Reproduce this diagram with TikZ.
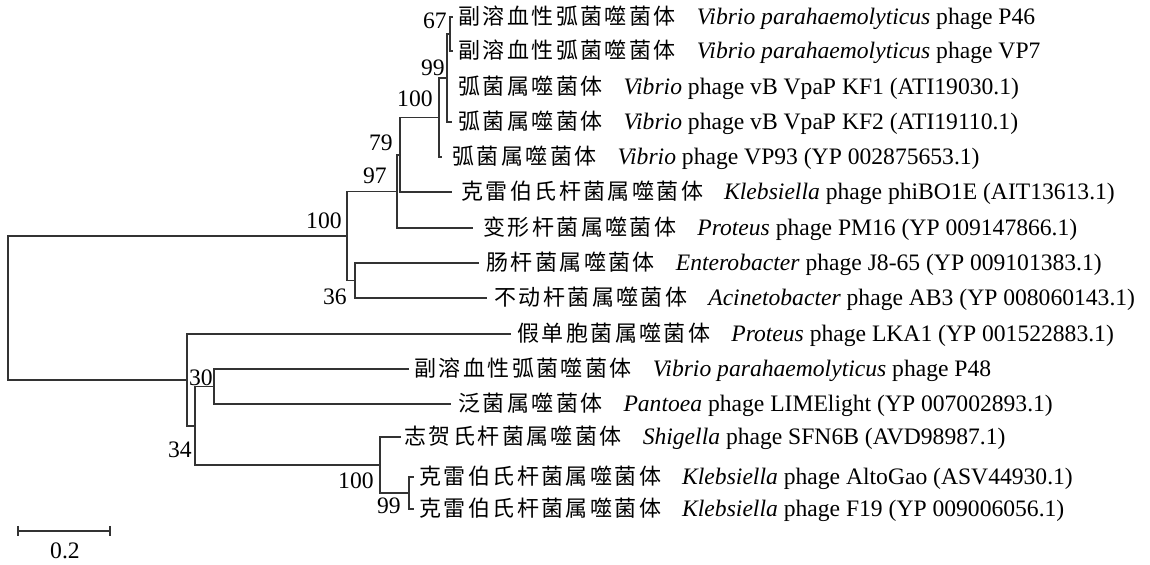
\documentclass[tikz,border=0pt]{standalone}
\usepackage{fontspec}
\setmainfont{Liberation Serif}
\newfontfamily\cjk[LetterSpace=11]{Noto Sans CJK SC}
\usetikzlibrary{positioning}
\newcommand{\phg}[3]{{\cjk\fontsize{11pt}{13pt}\selectfont #1}\hspace{10.5pt}\textit{#2} #3}

\begin{document}
\begin{tikzpicture}[x=0.5pt,y=-0.5pt,
	branch/.style={line width=0.8pt,draw=black!80},
	taxon/.style={anchor=base west,inner sep=0pt,yshift=-4pt,font=\fontsize{11.8pt}{14pt}\selectfont},
	boot/.style={anchor=base east,inner sep=0pt,font=\fontsize{11.8pt}{14pt}\selectfont}]
	\useasboundingbox (0,0) rectangle (1150,565);
	
	% leaf tips
	\coordinate (t1) at (453,17);
	\coordinate (t2) at (453,51);
	\coordinate (t4) at (452,122);
	\coordinate (t5) at (442,157);
	\coordinate (t6) at (452,192);
	\coordinate (t7) at (473,228);
	\coordinate (t8) at (479,263);
	\coordinate (t9) at (487,298);
	\coordinate (t10) at (511,334);
	\coordinate (t11) at (409,369);
	\coordinate (t12) at (451,404);
	\coordinate (t13) at (401,437);
	\coordinate (t14) at (414,477);
	\coordinate (t15) at (414,509);
	
	% inner nodes
	\coordinate (root) at (8,308);
	\coordinate (nA) at (347,235.9);
	\coordinate (n97) at (397,191.4);
	\coordinate (n79) at (400,154.75);
	\coordinate (n100) at (439,117.5);
	\coordinate (n99) at (447,78);
	\coordinate (n67) at (450,34);
	\coordinate (n36) at (355,280.5);
	\coordinate (nB) at (187,379.9);
	\coordinate (nC) at (195,425.75);
	\coordinate (nD) at (214,386.5);
	\coordinate (nE) at (380,465);
	\coordinate (nF) at (409,493);
	
	% upper clade
	\draw[branch] (root) |- (nA);
	\draw[branch] (nA) |- (n97);
	\draw[branch] (nA) |- (n36);
	\draw[branch] (n97) |- (n79);
	\draw[branch] (n97) |- (t7);
	\draw[branch] (n79) |- (n100);
	\draw[branch] (n79) |- (t6);
	\draw[branch] (n100) |- (n99);
	\draw[branch] (n100) |- (t5);
	\draw[branch] (n99) |- (n67);
	\draw[branch] (n99) |- (t4);
	\draw[branch] (n67) |- (t1);
	\draw[branch] (n67) |- (t2);
	\draw[branch] (n36) |- (t8);
	\draw[branch] (n36) |- (t9);
	
	% lower clade
	\draw[branch] (root) |- (nB);
	\draw[branch] (nB) |- (t10);
	\draw[branch] (nB) |- (nC);
	\draw[branch] (nC) |- (nD);
	\draw[branch] (nC) |- (nE);
	\draw[branch] (nD) |- (t11);
	\draw[branch] (nD) |- (t12);
	\draw[branch] (nE) |- (t13);
	\draw[branch] (nE) |- (nF);
	\draw[branch] (nF) |- (t14);
	\draw[branch] (nF) |- (t15);
	
	% bootstrap values
	\node[boot] (b67) at (447,29) {67};
	\node[boot] (b99) at (445,76) {99};
	\node[boot] (b100) at (433,107) {100};
	\node[boot] (b79) at (393,151) {79};
	\node[boot] (b97) at (387,184) {97};
	\node[boot] (bA) at (342,229) {100};
	\node[boot] (b36) at (347,305) {36};
	\node[boot] (bD) at (213,386) {30};
	\node[boot] (bC) at (192,458) {34};
	\node[boot] (bE) at (374,489) {100};
	\node[boot] (bF) at (401,514) {99};
	
	% taxa
	\node[taxon] (l1) at (458,17) {\phg{副溶血性弧菌噬菌体}{Vibrio parahaemolyticus}{phage P46}};
	\node[taxon] (l2) at (458,51) {\phg{副溶血性弧菌噬菌体}{Vibrio parahaemolyticus}{phage VP7}};
	\node[taxon] (l3) at (458,87) {\phg{弧菌属噬菌体}{Vibrio}{phage vB VpaP KF1 (ATI19030.1)}};
	\node[taxon] (l4) at (458,122) {\phg{弧菌属噬菌体}{Vibrio}{phage vB VpaP KF2 (ATI19110.1)}};
	\node[taxon] (l5) at (452,157) {\phg{弧菌属噬菌体}{Vibrio}{phage VP93 (YP 002875653.1)}};
	\node[taxon] (l6) at (461,192) {\phg{克雷伯氏杆菌属噬菌体}{Klebsiella}{phage phiBO1E (AIT13613.1)}};
	\node[taxon] (l7) at (483,228) {\phg{变形杆菌属噬菌体}{Proteus}{phage PM16 (YP 009147866.1)}};
	\node[taxon] (l8) at (486,263) {\phg{肠杆菌属噬菌体}{Enterobacter}{phage J8-65 (YP 009101383.1)}};
	\node[taxon] (l9) at (494,298) {\phg{不动杆菌属噬菌体}{Acinetobacter}{phage AB3 (YP 008060143.1)}};
	\node[taxon] (l10) at (517,334) {\phg{假单胞菌属噬菌体}{Proteus}{phage LKA1 (YP 001522883.1)}};
	\node[taxon] (l11) at (414,369) {\phg{副溶血性弧菌噬菌体}{Vibrio parahaemolyticus}{phage P48}};
	\node[taxon] (l12) at (458,404) {\phg{泛菌属噬菌体}{Pantoea}{phage LIMElight (YP 007002893.1)}};
	\node[taxon] (l13) at (404,437) {\phg{志贺氏杆菌属噬菌体}{Shigella}{phage SFN6B (AVD98987.1)}};
	\node[taxon] (l14) at (419,477) {\phg{克雷伯氏杆菌属噬菌体}{Klebsiella}{phage AltoGao (ASV44930.1)}};
	\node[taxon] (l15) at (419,509) {\phg{克雷伯氏杆菌属噬菌体}{Klebsiella}{phage F19 (YP 009006056.1)}};
	
	% scale bar
	\coordinate (s0) at (18,531);
	\coordinate (s1) at (110,531);
	\draw[branch] (s0) -- (s1);
	\draw[branch] (s0) ++(0,-5) -- ++(0,10);
	\draw[branch] (s1) ++(0,-5) -- ++(0,10);
	\node[boot,anchor=base] (sl) at (65,559) {0.2};
\end{tikzpicture}
\end{document}
